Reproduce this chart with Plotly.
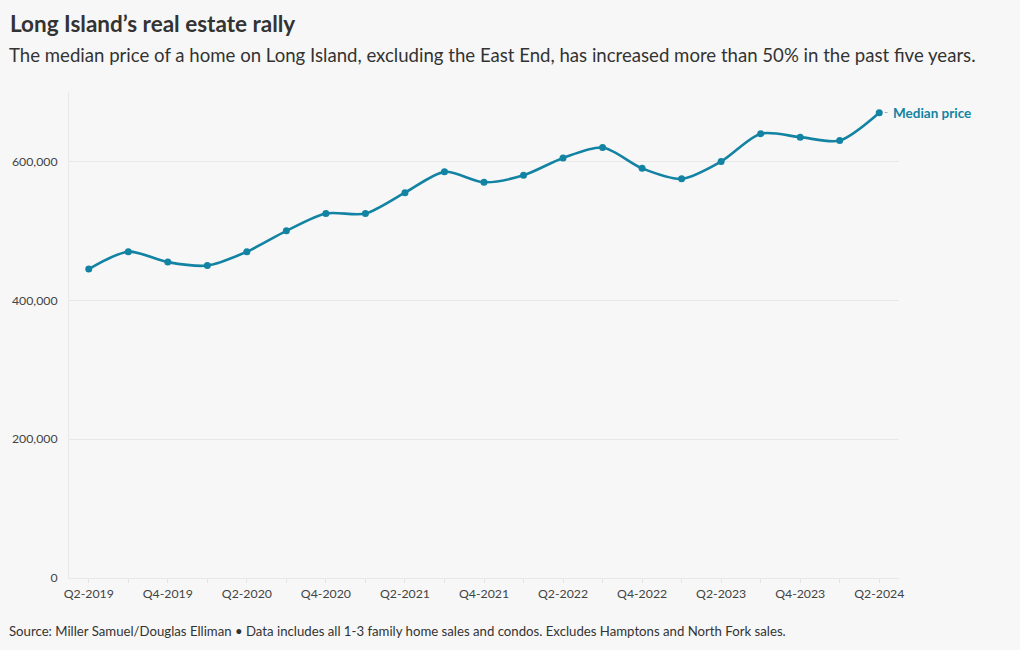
import plotly.graph_objects as go

quarters = ["Q2-2019","Q3-2019","Q4-2019","Q1-2020","Q2-2020","Q3-2020","Q4-2020",
            "Q1-2021","Q2-2021","Q3-2021","Q4-2021","Q1-2022","Q2-2022","Q3-2022",
            "Q4-2022","Q1-2023","Q2-2023","Q3-2023","Q4-2023","Q1-2024","Q2-2024"]
median_price = [445000, 470000, 455000, 450000, 470000, 500000, 525000,
                525000, 555000, 585000, 570000, 580000, 605000, 620000,
                590000, 575000, 600000, 640000, 635000, 630000, 670000]
y_ticks = [0, 200000, 400000, 600000]
y_ticktext = ["0", "200,000", "400,000", "600,000"]

FONT = "Source Sans Pro, Lato, sans-serif"
TEAL = "#1283a3"
idx = list(range(len(quarters)))
ticktext = [q if i % 2 == 0 else "" for i, q in enumerate(quarters)]

fig = go.Figure()
fig.add_trace(go.Scatter(
    x=idx, y=median_price, mode="lines+markers",
    line=dict(color=TEAL, width=2.6, shape="spline", smoothing=0.8),
    marker=dict(color=TEAL, size=7),
    hoverinfo="skip", showlegend=False,
))

fig.add_annotation(
    x=idx[-1], y=median_price[-1], xref="x", yref="y",
    text="<b>Median price</b>", showarrow=False,
    xanchor="left", xshift=12, font=dict(family=FONT, size=13.5, color=TEAL),
)
fig.add_annotation(
    x=idx[-1], y=median_price[-1], xref="x", yref="y",
    text="-", showarrow=False, xanchor="left", xshift=3, yshift=1,
    font=dict(family=FONT, size=11, color="#9ab"),
)

fig.update_layout(
    width=1020, height=650,
    paper_bgcolor="#f7f7f7", plot_bgcolor="#f7f7f7",
    margin=dict(l=65, r=121, t=92, b=72),
    font=dict(family=FONT, color="#444"),
    xaxis=dict(
        range=[-0.5, len(quarters) - 0.5],
        tickmode="array", tickvals=idx, ticktext=ticktext,
        ticks="outside", ticklen=4, tickcolor="#e4e4e4",
        showgrid=False, zeroline=False,
        showline=True, linecolor="#e8e8e8", linewidth=1,
        tickfont=dict(family=FONT, size=12.3, color="#444"),
        fixedrange=True,
    ),
    yaxis=dict(
        range=[0, 700000],
        tickmode="array", tickvals=y_ticks, ticktext=y_ticktext,
        showgrid=True, gridcolor="#e8e8e8", gridwidth=1,
        zeroline=False, showline=True, linecolor="#e8e8e8",
        ticks="", ticklabelstandoff=8,
        tickfont=dict(family=FONT, size=12.3, color="#444"),
        fixedrange=True,
    ),
)

PW = 1020 - 65 - 121
PH = 650 - 92 - 72
fig.add_annotation(
    xref="paper", yref="paper", x=-65/PW, y=1 + (92-23)/PH, xanchor="left", yanchor="middle",
    text="<b>Long Island’s real estate rally</b>", showarrow=False,
    font=dict(family=FONT, size=22.5, color="#333"), align="left", xshift=4,
)
fig.add_annotation(
    xref="paper", yref="paper", x=-65/PW, y=1 + (92-55)/PH, xanchor="left", yanchor="middle",
    text="The median price of a home on Long Island, excluding the East End, has increased more than 50% in the past five years.",
    showarrow=False, font=dict(family=FONT, size=18.6, color="#333"), align="left", xshift=3,
)
fig.add_annotation(
    xref="paper", yref="paper", x=-65/PW, y=-(631-578)/PH, xanchor="left", yanchor="middle",
    text="Source: Miller Samuel/Douglas Elliman • Data includes all 1-3 family home sales and condos. Excludes Hamptons and North Fork sales.",
    showarrow=False, font=dict(family=FONT, size=13.2, color="#333"), align="left", xshift=3,
)

fig.write_html("out.html", config={"displayModeBar": False},
               post_script="document.body.style.margin='0';")
